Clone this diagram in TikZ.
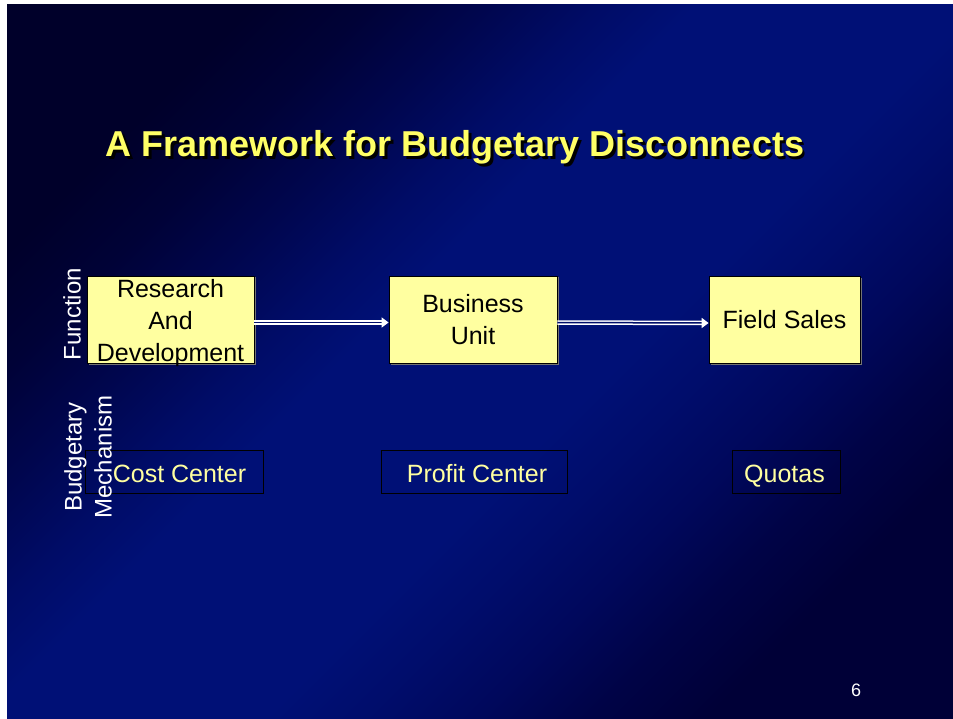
\documentclass[tikz,border=0pt]{standalone}
\usepackage{fontspec}
\setmainfont{Liberation Sans}
\usetikzlibrary{arrows.meta,calc,shadows}

% background gradient, running from the top-left corner (75bp) to the bottom-right corner (25bp)
\definecolor{bgA}{RGB}{0,0,42}
\definecolor{bgB}{RGB}{0,2,55}
\definecolor{bgC}{RGB}{0,6,78}
\definecolor{bgD}{RGB}{0,12,103}
\definecolor{bgE}{RGB}{0,16,118}
\definecolor{bgF}{RGB}{0,13,108}
\definecolor{bgG}{RGB}{0,8,92}
\definecolor{bgH}{RGB}{0,3,70}
\definecolor{bgI}{RGB}{0,0,55}
\pgfdeclareverticalshading{slidebg}{100bp}{%
  color(0bp)=(bgI); color(25bp)=(bgI); color(30bp)=(bgH); color(35bp)=(bgG);
  color(40bp)=(bgF); color(44bp)=(bgE); color(56bp)=(bgE); color(60bp)=(bgD);
  color(65bp)=(bgC); color(70bp)=(bgB); color(75bp)=(bgA); color(100bp)=(bgA)}

\definecolor{titleyellow}{RGB}{255,255,102}
\definecolor{boxyellow}{RGB}{255,255,160}
\definecolor{lineblue}{RGB}{0,14,105}

\begin{document}
\begin{tikzpicture}[x=1pt,y=-1pt,
  fnbox/.style={draw=black, line width=0.8pt, fill=boxyellow, minimum height=87pt,
    inner sep=0pt, align=center, text=black, font=\fontsize{25}{32}\selectfont,
    drop shadow={shadow xshift=2pt, shadow yshift=-1.5pt, fill=black!55, opacity=1}},
  fntext/.style={inner sep=0pt, align=center, text=black, font=\fontsize{25}{32}\selectfont},
  mechbox/.style={draw=black, line width=0.8pt, minimum height=43pt, inner sep=0pt},
  mechtext/.style={text=boxyellow, font=\fontsize{25}{30}\selectfont, inner sep=0pt, anchor=base},
  sidelabel/.style={text=white, rotate=90, align=center, inner sep=0pt,
    font=\fontsize{24}{30}\selectfont},
  flow/.style={draw=white, line width=1.5pt, double=lineblue, double distance=1.5pt,
    -{Triangle[length=7pt,width=10pt]}},
  titletext/.style={font=\fontsize{36}{42}\bfseries\selectfont, anchor=base, inner sep=0pt}
]
  % page and slide background
  \useasboundingbox (0,0) rectangle (953,719);
  \fill[white] (0,0) rectangle (953,719);
  \shade[shading=slidebg, shading angle=45] (7,5) rectangle (953,719);

  % title with drop shadow
  \node[titletext, text=black] (titleshadow) at (457.5,159.5)
    {A Framework for Budgetary Disconnects};
  \node[titletext, text=titleyellow] (title) at (455,157)
    {A Framework for Budgetary Disconnects};

  % functions
  \node[fnbox, minimum width=167pt] (rd) at (170.5,319.5) {};
  \node[fntext] (rdtext) at (170.5,323.5) {Research\\And\\Development};
  \node[fnbox, minimum width=168pt] (bu) at (473,319.5) {Business\\Unit};
  \node[fnbox, minimum width=151pt] (fs) at (784.5,320) {Field Sales};

  \draw[flow] ($(rd.east)+(0,3)$) -- ($(bu.west)+(0,3)$);
  \draw[flow] ($(bu.east)+(0,3)$) -- ($(fs.west)+(0,3)$);

  % budgetary mechanisms
  \node[mechbox, minimum width=178pt] (cc) at (174,471.5) {};
  \node[mechtext] (cctext) at (179.5,482) {Cost Center};
  \node[mechbox, minimum width=186pt] (pc) at (474,471.5) {};
  \node[mechtext] (pctext) at (477,482) {Profit Center};
  \node[mechbox, minimum width=108pt] (qu) at (786,471.5) {};
  \node[mechtext] (qutext) at (784.5,482) {Quotas};

  % row labels
  \node[sidelabel] (fnlabel) at (72,314) {Function};
  \node[sidelabel] (mechlabel) at (88,457) {Budgetary\\Mechanism};

  % slide number
  \node[text=white, font=\fontsize{18}{20}\selectfont, inner sep=0pt] (pagenum) at (856,690) {6};
\end{tikzpicture}
\end{document}
